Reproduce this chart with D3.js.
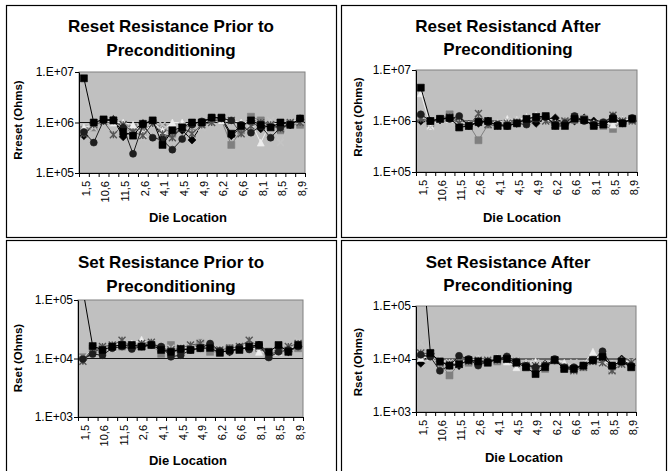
<!DOCTYPE html>
<html><head><meta charset="utf-8">
<script src="https://cdn.jsdelivr.net/npm/d3@7"></script>
<style>body{margin:0;background:#fff} svg{display:block} text{font-family:"Liberation Sans",Arial,sans-serif}</style>
</head><body><svg id="c" width="668" height="471"></svg>
<script>
// ---------- DATA ----------
const categories = ["1,5","1,9","10,6","10,9","11,5","11,9","2,6","3,3","4,1","4,3","4,5","4,7","4,9","5,5","6,2","6,4","6,6","7,7","8,1","8,3","8,5","8,7","8,9"];
const resetTicks = [1e5, 1e6, 1e7];
const resetTickLabels = ["1.E+05", "1.E+06", "1.E+07"];
const setTicks = [1e3, 1e4, 1e5];
const setTickLabels = ["1.E+03", "1.E+04", "1.E+05"];
const markerTypes = ["diamond", "square", "triangle", "x", "star", "circle", "square"];
const seriesColors = ["#000000", "#808080", "#eeeeee", "#c4c4c4", "#555555", "#1e1e1e", "#000000"];

// Reset resistance prior to preconditioning (Ohms)
const resetPrior = [
  [5.5e5, 9.5e5, 1.1e6, 1.15e6, 5.2e5, 7e5, 9.5e5, 1.05e6, 5e5, 6e5, 7e5, 4.5e5, 9e5, 1.1e6, 1.15e6, 5.5e5, 8e5, 1.1e6, 7.5e5, 9e5, 8e5, 9e5, 1.15e6],
  [7.2e5, 8e5, 1.1e6, 1.1e6, 9e5, 8e5, 6.6e5, 1.0e6, 8e5, 6e5, 8e5, 8.5e5, 1.0e6, 1.2e6, 1.1e6, 3.6e5, 7e5, 1.3e6, 1.1e6, 9e5, 7e5, 9.5e5, 9e5],
  [8e5, 9e5, 1.1e6, 1.0e6, 1.0e6, 9e5, 6e5, 1.0e6, 7e5, 1.0e6, 1.0e6, 9e5, 1.0e6, 1.3e6, 1.1e6, 1.1e6, 1.0e6, 1.0e6, 4e5, 1.0e6, 9e5, 1.0e6, 1.2e6],
  [5e6, 8e5, 1.0e6, 1.05e6, 7e5, 6e5, 5e5, 9e5, 9e5, 7e5, 9e5, 1.0e6, 8e5, 1.0e6, 1.15e6, 1.0e6, 9e5, 1.0e6, 1.0e6, 1.1e6, 4e5, 1.0e6, 1.1e6],
  [6e5, 9e5, 1.05e6, 5.7e5, 9e5, 6.5e5, 5.5e5, 9.5e5, 6e5, 5e5, 8e5, 6e5, 9e5, 1.0e6, 1.2e6, 1.1e6, 6e5, 8.5e5, 1.0e6, 9e5, 7.5e5, 1.0e6, 1.0e6],
  [6.5e5, 4e5, 1.1e6, 1.1e6, 8e5, 2.4e5, 9e5, 5e5, 4.5e5, 2.9e5, 4.7e5, 9e5, 1.05e6, 1.25e6, 1.2e6, 1.1e6, 9e5, 6.3e5, 8.5e5, 5e5, 8e5, 9e5, 1.2e6],
  [7.5e6, 1.0e6, 1.15e6, 1.1e6, 6.5e5, 5.5e5, 9.4e5, 1.1e6, 3.6e5, 7e5, 8e5, 1.0e6, 1.0e6, 1.25e6, 1.25e6, 6e5, 8.5e5, 1.1e6, 9e5, 8e5, 1.0e6, 9e5, 1.2e6]
];
// Reset resistance after preconditioning (Ohms)
const resetAfter = [
  [1.0e6, 9.5e5, 1.05e6, 1.15e6, 1.05e6, 8.5e5, 9e5, 1.0e6, 8.5e5, 8.5e5, 9e5, 1.05e6, 9e5, 1.1e6, 1.15e6, 8.5e5, 1.0e6, 1.15e6, 1.0e6, 8.5e5, 1.1e6, 9.5e5, 1.1e6],
  [1.2e6, 9e5, 1.1e6, 1.35e6, 7.5e5, 8.5e5, 4.2e5, 8.5e5, 8.5e5, 8.5e5, 9.5e5, 1.05e6, 1.15e6, 1.2e6, 8e5, 9.5e5, 1.05e6, 1.1e6, 8.5e5, 8e5, 7e5, 1.0e6, 1.05e6],
  [3.5e6, 8e5, 1.1e6, 1.1e6, 1.0e6, 8.5e5, 1.0e6, 9.5e5, 9e5, 1.1e6, 1.05e6, 1.2e6, 1.3e6, 1.15e6, 9e5, 1.0e6, 1.1e6, 1.05e6, 9e5, 9.5e5, 8.5e5, 1.05e6, 1.1e6],
  [1.3e6, 7.5e5, 1.05e6, 9.5e5, 1.05e6, 8e5, 1.4e6, 9e5, 8.5e5, 1.05e6, 1.1e6, 1.0e6, 1.2e6, 1.05e6, 7.5e5, 9e5, 1.2e6, 1.0e6, 8e5, 9e5, 1.3e6, 1.1e6, 1.3e6],
  [1.1e6, 1.0e6, 1.1e6, 1.2e6, 9e5, 8e5, 1.4e6, 8.5e5, 8e5, 9e5, 9.5e5, 1.1e6, 1.2e6, 1.0e6, 8.5e5, 1.0e6, 1.2e6, 1.05e6, 8.5e5, 9e5, 1.3e6, 1.0e6, 1.0e6],
  [1.35e6, 1.0e6, 1.1e6, 1.1e6, 1.25e6, 8e5, 1.0e6, 9.5e5, 8.5e5, 8e5, 9e5, 8.5e5, 1.1e6, 1.2e6, 8.5e5, 9e5, 1.25e6, 1.0e6, 8.5e5, 9.5e5, 1.2e6, 9e5, 1.15e6],
  [4.5e6, 1.0e6, 1.1e6, 1.15e6, 7.5e5, 8e5, 9.5e5, 1.0e6, 8e5, 8e5, 9e5, 1.1e6, 1.2e6, 1.25e6, 8e5, 8e5, 1.1e6, 1.05e6, 8e5, 8.5e5, 1.1e6, 9e5, 1.1e6]
];
// Set resistance prior to preconditioning (Ohms)
const setPrior = [
  [9.5e3, 1.3e4, 1.5e4, 1.6e4, 1.7e4, 1.6e4, 1.7e4, 1.8e4, 1.5e4, 1.3e4, 1.4e4, 1.5e4, 1.6e4, 1.5e4, 1.35e4, 1.3e4, 1.5e4, 1.6e4, 1.7e4, 1.2e4, 1.4e4, 1.3e4, 1.6e4],
  [1.05e4, 1.4e4, 1.5e4, 1.5e4, 1.6e4, 1.7e4, 1.6e4, 1.7e4, 1.2e4, 1.7e4, 1.4e4, 1.5e4, 1.85e4, 1.3e4, 1.3e4, 1.5e4, 1.5e4, 1.6e4, 1.5e4, 1.2e4, 1.35e4, 1.4e4, 1.5e4],
  [1.0e4, 1.5e4, 1.6e4, 1.5e4, 1.7e4, 1.8e4, 2.1e4, 1.7e4, 1.6e4, 1.4e4, 1.5e4, 1.6e4, 1.5e4, 1.5e4, 1.4e4, 1.4e4, 1.5e4, 1.7e4, 1.3e4, 1.3e4, 1.3e4, 1.4e4, 1.7e4],
  [1.0e4, 1.6e4, 1.6e4, 1.8e4, 2.0e4, 1.7e4, 1.7e4, 1.9e4, 1.6e4, 1.5e4, 1.6e4, 1.6e4, 1.9e4, 1.7e4, 1.5e4, 1.4e4, 1.6e4, 2.0e4, 1.7e4, 1.3e4, 1.5e4, 1.5e4, 2.0e4],
  [9e3, 1.5e4, 1.6e4, 1.7e4, 2.05e4, 1.6e4, 1.8e4, 1.9e4, 1.5e4, 1.4e4, 1.5e4, 1.7e4, 1.8e4, 1.6e4, 1.4e4, 1.5e4, 1.6e4, 2.05e4, 1.6e4, 1.1e4, 1.4e4, 1.6e4, 1.8e4],
  [9.8e3, 1.19e4, 1.14e4, 1.5e4, 1.6e4, 1.45e4, 1.6e4, 1.7e4, 1.6e4, 1.07e4, 1.14e4, 1.4e4, 1.5e4, 1.8e4, 1.35e4, 1.3e4, 1.55e4, 1.43e4, 1.7e4, 1.04e4, 1.3e4, 1.4e4, 1.6e4],
  [1.5e5, 1.63e4, 1.4e4, 1.6e4, 1.7e4, 1.7e4, 1.6e4, 1.7e4, 1.4e4, 1.3e4, 1.45e4, 1.4e4, 1.5e4, 1.5e4, 1.25e4, 1.4e4, 1.4e4, 1.6e4, 1.7e4, 1.3e4, 1.7e4, 1.3e4, 1.7e4]
];
// Set resistance after preconditioning (Ohms)
const setAfter = [
  [8.3e3, 1.25e4, 9e3, 8e3, 7.5e3, 9.5e3, 9e3, 9e3, 1.0e4, 9.5e3, 7.5e3, 8e3, 7e3, 8e3, 9.5e3, 7e3, 7e3, 7.5e3, 9.5e3, 1.05e4, 7e3, 1.0e4, 7.5e3],
  [1.1e4, 1.15e4, 8.5e3, 4.9e3, 8e3, 8.5e3, 8.5e3, 9e3, 9e3, 1.0e4, 8.5e3, 7e3, 6.5e3, 6.5e3, 9.5e3, 6.5e3, 6.5e3, 7e3, 1.0e4, 1.0e4, 6.5e3, 9e3, 7e3],
  [1.05e4, 1.1e4, 9.5e3, 8.5e3, 8.5e3, 9.5e3, 1.0e4, 9.5e3, 1.05e4, 9e3, 7e3, 8.5e3, 9e3, 8e3, 1.0e4, 8.5e3, 7.5e3, 8e3, 1.37e4, 9e3, 8e3, 9.5e3, 8.5e3],
  [2.0e4, 1.2e4, 9e3, 8.5e3, 7.5e3, 9e3, 1.05e4, 1.1e4, 9.5e3, 9.5e3, 9.5e3, 8e3, 8.5e3, 7.5e3, 9e3, 7.5e3, 8.5e3, 7e3, 9e3, 8e3, 5.2e3, 7e3, 9e3],
  [1.3e4, 1.25e4, 8.5e3, 8e3, 8e3, 9e3, 9.5e3, 9.5e3, 9.5e3, 1.0e4, 9e3, 7.5e3, 7.5e3, 7.5e3, 9.5e3, 7e3, 6e3, 7e3, 9e3, 8.5e3, 6e3, 8e3, 8.5e3],
  [1.2e4, 1.1e4, 6e3, 7.5e3, 1.15e4, 1.0e4, 7.5e3, 9e3, 1.0e4, 1.12e4, 9e3, 7.5e3, 7e3, 7.5e3, 1.0e4, 7e3, 7e3, 7.5e3, 9.5e3, 1.4e4, 7.5e3, 9e3, 7.5e3],
  [2e6, 1.3e4, 9e3, 7.5e3, 8e3, 9.5e3, 9e3, 8.5e3, 1.0e4, 1.0e4, 8.5e3, 7e3, 5.2e3, 7e3, 9.5e3, 6.5e3, 6.5e3, 7.5e3, 9.5e3, 1.1e4, 7.5e3, 9e3, 7e3]
];

// ---------- LAYOUT ----------
const panels = [
  {data: resetPrior, ticks: resetTicks, labels: resetTickLabels,
   title: ["Reset Resistance Prior to", "Preconditioning"], tx: 171, ty: [31.5, 55.5],
   yTitle: "Rreset (Ohms)", ytx: 18, yty: 120, xtx: 188, xty: 222,
   box: [6.5, 5.5, 330, 232], plot: {x0: 79, x1: 305, y0: 72, y1: 173}},
  {data: resetAfter, ticks: resetTicks, labels: resetTickLabels,
   title: ["Reset Resistancd After", "Preconditioning"], tx: 508, ty: [31.5, 54.5],
   yTitle: "Rreset (Ohms)", ytx: 358, yty: 117, xtx: 522, xty: 222,
   box: [341.5, 5.5, 325, 232], plot: {x0: 416, x1: 637, y0: 70, y1: 172}},
  {data: setPrior, ticks: setTicks, labels: setTickLabels,
   title: ["Set Resistance Prior to", "Preconditioning"], tx: 171, ty: [267.5, 291.5],
   yTitle: "Rset (Ohms)", ytx: 18, yty: 358, xtx: 188, xty: 465,
   box: [6.5, 240.5, 330, 240], plot: {x0: 78, x1: 303, y0: 300, y1: 417}},
  {data: setAfter, ticks: setTicks, labels: setTickLabels,
   title: ["Set Resistance After", "Preconditioning"], tx: 508, ty: [267.5, 290.5],
   yTitle: "Rset (Ohms)", ytx: 358, yty: 362, xtx: 524, xty: 462,
   box: [341.5, 240.5, 325, 240], plot: {x0: 416, x1: 636, y0: 306, y1: 412}}
];

const svg = d3.select("#c");
svg.append("rect").attr("width", 668).attr("height", 471).attr("fill", "#fff");

function markerPath(type, s) {
  switch (type) {
    case "diamond": return `M0,${-s * 1.15}L${s * 1.15},0L0,${s * 1.15}L${-s * 1.15},0Z`;
    case "square": return `M${-s},${-s}H${s}V${s}H${-s}Z`;
    case "triangle": return `M0,${-s}L${s},${s}L${-s},${s}Z`;
    case "x": return `M${-s},${-s}L${s},${s}M${s},${-s}L${-s},${s}`;
    case "star": return `M${-s},${-s}L${s},${s}M${s},${-s}L${-s},${s}M0,${-s}V${s}`;
    default: return d3.symbol(d3.symbolCircle, Math.PI * s * s)();
  }
}

panels.forEach((p, pi) => {
  const g = svg.append("g");
  const P = p.plot;
  g.append("rect").attr("x", p.box[0]).attr("y", p.box[1]).attr("width", p.box[2]).attr("height", p.box[3])
    .attr("fill", "#fff").attr("stroke", "#000").attr("stroke-width", 1.2);

  const x = d3.scaleBand().domain(categories).range([P.x0, P.x1]);
  const xt = d3.scaleLinear().domain([0, categories.length]).range([P.x0, P.x1]);
  const y = d3.scaleLog().domain([p.ticks[0], p.ticks[2]]).range([P.y1, P.y0]);

  g.append("rect").attr("x", P.x0).attr("y", P.y0).attr("width", P.x1 - P.x0).attr("height", P.y1 - P.y0)
    .attr("fill", "#c0c0c0").attr("stroke", "#808080").attr("stroke-width", 1);

  // gridline at middle decade
  g.append("line").attr("x1", P.x0).attr("x2", P.x1).attr("y1", y(p.ticks[1])).attr("y2", y(p.ticks[1]))
    .attr("stroke", "#111").attr("stroke-width", 1);

  const clipId = "clip" + pi;
  g.append("clipPath").attr("id", clipId).append("rect")
    .attr("x", P.x0 - 6).attr("y", P.y0).attr("width", P.x1 - P.x0 + 12).attr("height", P.y1 - P.y0);
  const plotG = g.append("g").attr("clip-path", `url(#${clipId})`);

  const line = d3.line().x((d, i) => x(categories[i]) + x.bandwidth() / 2).y(d => y(d));
  p.data.forEach((vals, si) => {
    const col = seriesColors[si];
    plotG.append("path").attr("d", line(vals)).attr("fill", "none").attr("stroke", col).attr("stroke-width", 1);
    const type = markerTypes[si];
    const stroked = (type === "x" || type === "star");
    plotG.selectAll(null).data(vals).enter().append("path")
      .attr("transform", (d, i) => `translate(${x(categories[i]) + x.bandwidth() / 2},${y(d)})`)
      .attr("d", markerPath(type, 3.5))
      .attr("fill", stroked ? "none" : col)
      .attr("stroke", col).attr("stroke-width", stroked ? 1.4 : 0.6);
  });

  // Y axis
  const yAxis = d3.axisLeft(y).tickValues(p.ticks).tickFormat((d, i) => p.labels[i]).tickSize(4).tickSizeOuter(0);
  const ya = g.append("g").attr("transform", `translate(${P.x0},0)`).call(yAxis);
  ya.select(".domain").attr("stroke", "#000");
  ya.selectAll(".tick line").attr("stroke", "#000");
  ya.selectAll("text").attr("font-size", 12).attr("fill", "#000").attr("x", -5)
    .attr("font-family", "'Liberation Sans',Arial,sans-serif");

  // X axis: tick marks between categories
  const xAxisTicks = d3.axisBottom(xt).tickValues(d3.range(categories.length + 1)).tickFormat("").tickSize(4).tickSizeOuter(0);
  const xa = g.append("g").attr("transform", `translate(0,${P.y1})`).call(xAxisTicks);
  xa.select(".domain").attr("stroke", "#000");
  xa.selectAll(".tick line").attr("stroke", "#000");

  // X labels (every other category), rotated
  const xAxisLabels = d3.axisBottom(x).tickValues(categories.filter((c, i) => i % 2 === 0)).tickSize(0).tickSizeOuter(0);
  const xl = g.append("g").attr("transform", `translate(2,${P.y1})`).call(xAxisLabels);
  xl.select(".domain").remove();
  xl.selectAll("text").attr("font-size", 11).attr("fill", "#000")
    .attr("font-family", "'Liberation Sans',Arial,sans-serif")
    .attr("transform", "rotate(-90)").attr("text-anchor", "end")
    .attr("x", -8).attr("y", 0).attr("dy", "0.35em");

  // Titles
  p.title.forEach((t, i) => {
    g.append("text").attr("x", p.tx).attr("y", p.ty[i]).attr("text-anchor", "middle")
      .attr("font-size", 17).attr("font-weight", "bold").text(t);
  });
  g.append("text").attr("transform", `translate(${p.ytx},${p.yty}) rotate(-90)`).attr("text-anchor", "middle")
    .attr("dy", "0.35em").attr("font-size", 11.5).attr("font-weight", "bold").text(p.yTitle);
  g.append("text").attr("x", p.xtx).attr("y", p.xty).attr("text-anchor", "middle")
    .attr("font-size", 13).attr("font-weight", "bold").text("Die Location");
});
</script>
</body></html>
